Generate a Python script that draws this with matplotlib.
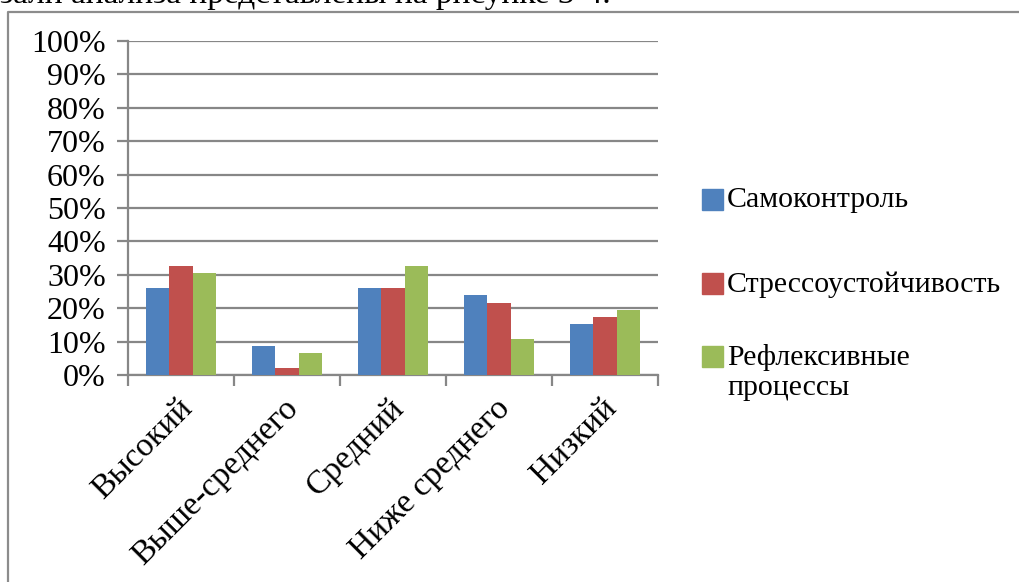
import matplotlib
matplotlib.use("Agg")
import matplotlib.pyplot as plt
from matplotlib.patches import Rectangle
from matplotlib.lines import Line2D
import numpy as np

plt.rcParams['font.family'] = ['Liberation Serif', 'DejaVu Serif']

# data (share of respondents, %)
categories = ['Высокий', 'Выше-среднего', 'Средний', 'Ниже среднего', 'Низкий']
series_names = ['Самоконтроль', 'Стрессоустойчивость', 'Рефлексивные\nпроцессы']
samokontrol = [26.1, 8.7, 26.1, 23.9, 15.2]
stress = [32.6, 2.2, 26.1, 21.7, 17.4]
reflex = [30.4, 6.5, 32.6, 10.9, 19.6]
colors = ['#4F81BD', '#C0504D', '#9BBB59']
yticks = list(range(0, 101, 10))

W, H = 1020, 582
fig = plt.figure(figsize=(W / 100, H / 100), dpi=100)
ax = fig.add_axes([128 / W, 1 - 375 / H, 530 / W, 334 / H])

grey = '#878787'
x = np.arange(len(categories))
bw = 0.222
for i, vals in enumerate([samokontrol, stress, reflex]):
    ax.bar(x + (i - 1) * bw, vals, width=bw, color=colors[i], zorder=3)

ax.set_xlim(-0.5, len(categories) - 0.5)
ax.set_ylim(0, 100)
ax.set_yticks(yticks)
ax.set_yticklabels([f'{t}%' for t in yticks], fontsize=23)
ax.set_xticks(np.arange(-0.5, len(categories), 1.0))
ax.set_xticklabels([])
ax.grid(axis='y', color=grey, linewidth=1.6, zorder=0)
for s in ['top', 'right']:
    ax.spines[s].set_visible(False)
for s in ['left', 'bottom']:
    ax.spines[s].set_color(grey)
    ax.spines[s].set_linewidth(1.6)
ax.tick_params(axis='both', colors=grey, width=1.6, length=8, direction='out')
ax.tick_params(axis='y', labelcolor='black', pad=8)

# rotated category labels
for xi, name in zip(x, categories):
    ax.annotate(name, xy=(xi, 0), xycoords=('data', 'axes fraction'),
                xytext=(-3, -13), textcoords='offset points',
                rotation=45, ha='right', va='top', rotation_mode='anchor',
                fontsize=24)

# legend drawn by hand so the marker sits on the first text line
leg_y = [200, 284, 357]
for c, name, yy in zip(colors, series_names, leg_y):
    fig.patches.append(Rectangle((702 / W, 1 - (yy + 10) / H), 21 / W, 21 / H,
                                 transform=fig.transFigure, color=c))
    fig.text(727 / W, 1 - (yy - 13) / H, name, fontsize=21.5, va='top',
             ha='left', linespacing=1.2)

# frame of the embedded chart and the cut-off line of text above it
fig.lines.append(Line2D([8 / W, 8 / W, 1], [0, 1 - 12 / H, 1 - 12 / H],
                        transform=fig.transFigure, color='#8c8c8c', linewidth=1.6))
fig.text(0, 1 - 3 / H, 'зали анализа представлены на рисунке 3-4.', fontsize=24,
         va='baseline', ha='left')

fig.savefig('out.png', dpi=100)
